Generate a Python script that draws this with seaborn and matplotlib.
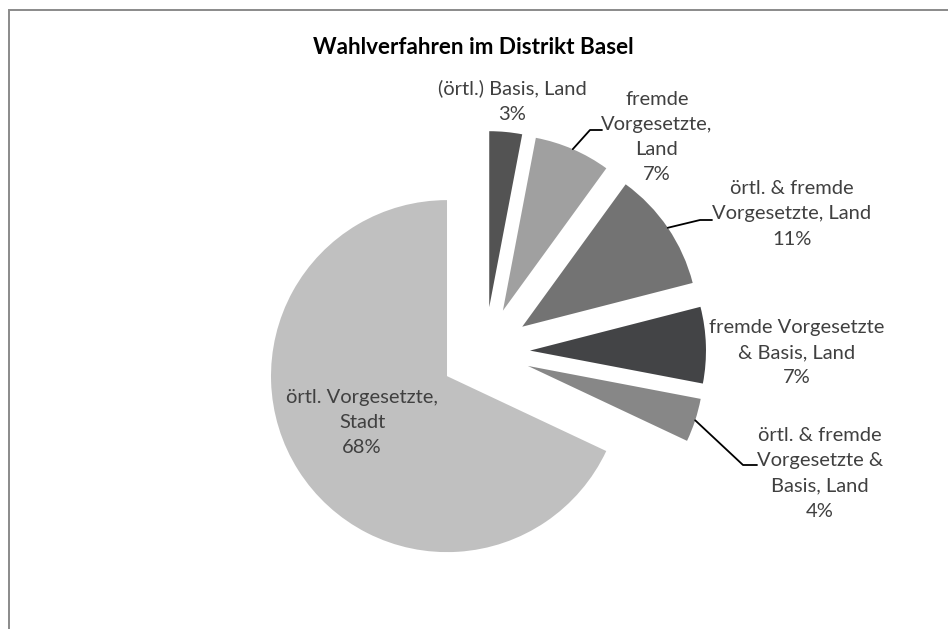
import numpy as np
import matplotlib
matplotlib.use("Agg")
import matplotlib.pyplot as plt
from matplotlib.lines import Line2D
from matplotlib.patches import Rectangle
import seaborn as sns

# Shares of the election procedures (percent), clockwise from 12 o'clock
labels = [
    "(örtl.) Basis, Land",
    "fremde\nVorgesetzte,\nLand",
    "örtl. & fremde\nVorgesetzte, Land",
    "fremde Vorgesetzte\n& Basis, Land",
    "örtl. & fremde\nVorgesetzte &\nBasis, Land",
    "örtl. Vorgesetzte,\nStadt",
]
shares = [3, 7, 11, 7, 4, 68]
slice_colors = ["#535353", "#a0a0a0", "#737373", "#434446", "#878787", "#c0c0c0"]
title = "Wahlverfahren im Distrikt Basel"

sns.set_theme(style="white")
plt.rcParams["font.family"] = ["Lato", "DejaVu Sans"]

W, H = 948, 629
fig = plt.figure(figsize=(W / 100, H / 100), dpi=100)
ax = fig.add_axes([0, 0, 1, 1])

# pixel-like data space, y measured upward
cx, cy = 485, H - 352
radius = 176
offset = 45

wedges, _ = ax.pie(
    shares,
    colors=slice_colors,
    startangle=90,
    counterclock=False,
    radius=radius,
    center=(cx, cy),
    explode=[offset] * len(shares),
    wedgeprops=dict(linewidth=0),
)
ax.set_xlim(0, W)
ax.set_ylim(0, H)
ax.set_aspect("equal")
ax.axis("off")

text_color = "#404040"
fs = 14.5

# label block centres (x, y from top) and leader elbows
label_pos = [(512, 101), (657, 137), (792, 214), (797, 352.5), (820, 473.5), (362, 422.5)]
leaders = {
    1: [(590, 130), (602, 130)],
    2: [(700, 220), (712, 220)],
    4: [(743, 465), (757, 465)],
}

for i, (lab, val) in enumerate(zip(labels, shares)):
    x, y = label_pos[i]
    ax.text(x, H - y, f"{lab}\n{val}%", ha="center", va="center",
            fontsize=fs, color=text_color, linespacing=1.58)
    if i in leaders:
        w = wedges[i]
        mid = np.deg2rad(0.5 * (w.theta1 + w.theta2))
        sx = w.center[0] + w.r * np.cos(mid)
        sy = w.center[1] + w.r * np.sin(mid)
        pts = [(sx, sy)] + [(px, H - py) for px, py in leaders[i]]
        xs, ys = zip(*pts)
        ax.add_line(Line2D(xs, ys, color="black", linewidth=1.3))

ax.text(473, H - 48, title, ha="center", va="center", fontsize=16.2,
        fontweight="bold", color="black")

# chart-area border
fig.patches.append(Rectangle((9 / W, -0.1), 1.2, (H - 10) / H + 0.1,
                             transform=fig.transFigure, fill=False,
                             edgecolor="#8a8a8a", linewidth=1.4))

fig.savefig("out.png", dpi=100, facecolor="white")
